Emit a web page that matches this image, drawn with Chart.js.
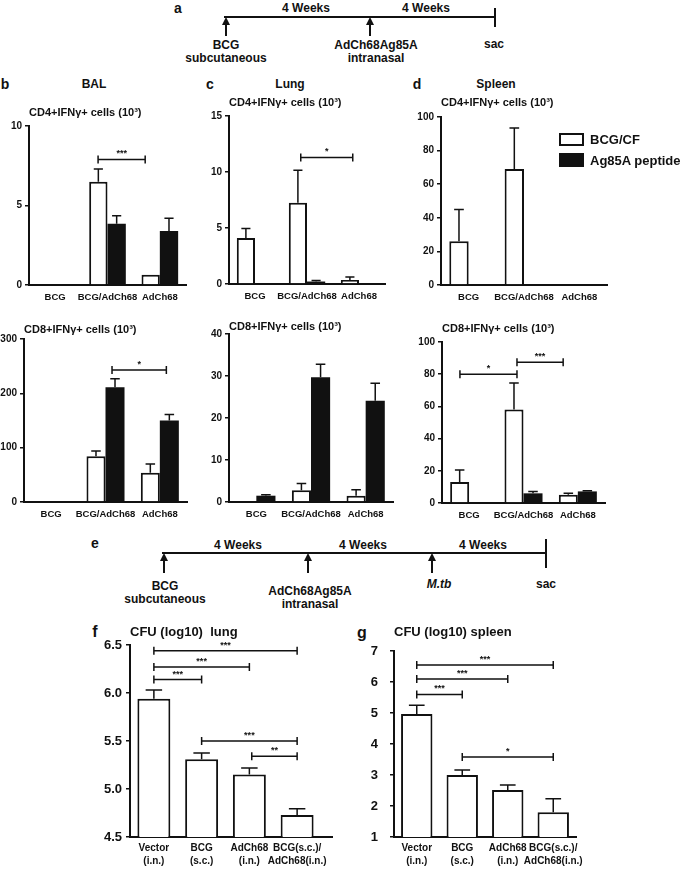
<!DOCTYPE html>
<html>
<head>
<meta charset="utf-8">
<script src="https://cdn.jsdelivr.net/npm/chart.js@4.4.1/dist/chart.umd.min.js"></script>
<style>
  html, body { margin: 0; padding: 0; background: #fff; }
  #page { position: relative; width: 685px; height: 870px; overflow: hidden; background: #fff; }
  canvas { position: absolute; }
  .t { position: absolute; transform: translate(-50%, -50%); white-space: nowrap; font: bold 12px 'Liberation Sans', Arial, sans-serif; color: #111; }
  .lt { position: absolute; transform: translateY(-50%); white-space: nowrap; font: bold 13px 'Liberation Sans', Arial, sans-serif; color: #111; }
  .ln { position: absolute; background: #111; }
  .head { position: absolute; width: 0; height: 0; border-left: 4px solid transparent; border-right: 4px solid transparent; border-bottom: 8px solid #111; }
  .key { position: absolute; box-sizing: border-box; width: 25px; border: 2px solid #111; }
</style>
</head>
<body>
<div id="page"></div>
<script>
// ---- data ----
const groups = ['BCG', 'BCG/AdCh68', 'AdCh68'];
const seriesNames = ['BCG/CF', 'Ag85A peptide'];

// b: BAL
const balCd4Cf = [null, 6.5, 0.65];
const balCd4CfErr = [0, 0.8, 0];
const balCd4Pep = [null, 3.85, 3.4];
const balCd4PepErr = [0, 0.5, 0.8];
const balCd8Cf = [null, 84, 54];
const balCd8CfErr = [0, 10, 16];
const balCd8Pep = [null, 211, 150];
const balCd8PepErr = [0, 16, 11];

// c: Lung
const lungCd4Cf = [4.1, 7.25, 0.35];
const lungCd4CfErr = [0.85, 2.9, 0.27];
const lungCd4Pep = [null, 0.22, null];
const lungCd4PepErr = [0, 0.1, 0];
const lungCd8Cf = [null, 2.8, 1.5];
const lungCd8CfErr = [0, 1.6, 1.4];
const lungCd8Pep = [1.5, 29.7, 24.1];
const lungCd8PepErr = [0.25, 3.1, 4.2];

// d: Spleen
const spleenCd4Cf = [26, 69, null];
const spleenCd4CfErr = [19, 24.5, 0];
const spleenCd4Pep = [null, null, null];
const spleenCd4PepErr = [0, 0, 0];
const spleenCd8Cf = [13, 58, 5.2];
const spleenCd8CfErr = [7.5, 16.5, 0.8];
const spleenCd8Pep = [0.5, 6, 7.2];
const spleenCd8PepErr = [0, 1.2, 0.4];

// f, g: CFU after M.tb challenge
const cfuGroups = [['Vector', '(i.n.)'], ['BCG', '(s.c.)'], ['AdCh68', '(i.n.)'], ['BCG(s.c.)/', 'AdCh68(i.n.)']];
const cfuLung = [5.94, 5.31, 5.15, 4.73];
const cfuLungErr = [0.09, 0.065, 0.07, 0.065];
const cfuSpleen = [4.97, 3.0, 2.52, 1.8];
const cfuSpleenErr = [0.28, 0.16, 0.16, 0.43];

// significance brackets (category index units, value units)
const balCd4Sig = [{ from: 0.82, to: 1.72, y: 7.9, text: '***' }];
const balCd8Sig = [{ from: 1.12, to: 2.12, y: 243, text: '*' }];
const lungCd4Sig = [{ from: 0.88, to: 1.88, y: 11.3, text: '*' }];
const spleenCd8Sig = [
  { from: -0.17, to: 0.88, y: 80, text: '*' },
  { from: 0.88, to: 1.73, y: 87.5, text: '***' }
];
const cfuLungSig = [
  { from: 0, to: 3, y: 6.44, text: '***' },
  { from: 0, to: 2, y: 6.27, text: '***' },
  { from: 0, to: 1, y: 6.14, text: '***' },
  { from: 1, to: 3, y: 5.5, text: '***' },
  { from: 2.05, to: 3, y: 5.34, text: '**' }
];
const cfuSpleenSig = [
  { from: 0, to: 3, y: 6.55, text: '***' },
  { from: 0, to: 2, y: 6.1, text: '***' },
  { from: 0, to: 1, y: 5.6, text: '***' },
  { from: 1, to: 3, y: 3.58, text: '*' }
];

// ---- page helpers ----
const page = document.getElementById('page');
function put(cls, css, txt) {
  const d = document.createElement('div');
  d.className = cls;
  d.style.cssText = css;
  if (txt) d.textContent = txt;
  page.appendChild(d);
  return d;
}
function label(x, y, txt, extra) { put('t', `left:${x}px;top:${y}px;${extra || ''}`, txt); }
function arrow(x, y1, y2) {
  put('ln', `left:${x - 1}px;top:${y1 + 6}px;width:2px;height:${y2 - y1 - 6}px`);
  put('head', `left:${x - 4}px;top:${y1}px`);
}

// timeline a
label(178, 8, 'a', 'font-size:14px');
put('ln', 'left:224px;top:16px;width:271px;height:2px');
put('ln', 'left:494px;top:8px;width:2px;height:19px');
arrow(226, 17, 36);
arrow(370, 17, 36);
label(306, 8, '4 Weeks');
label(426, 8, '4 Weeks');
label(226, 45, 'BCG');
label(226, 58, 'subcutaneous');
label(376, 45, 'AdCh68Ag85A');
label(376, 58, 'intranasal');
label(494, 44, 'sac');

// panel headers
label(5, 84, 'b', 'font-size:14px');
label(94, 84, 'BAL');
label(210, 84, 'c', 'font-size:14px');
label(290, 84, 'Lung');
label(417, 84, 'd', 'font-size:14px');
label(496, 84, 'Spleen');

// timeline e
label(95, 543, 'e', 'font-size:14px');
put('ln', 'left:162px;top:552px;width:384px;height:2px');
put('ln', 'left:545px;top:539px;width:2px;height:29px');
arrow(164, 553, 573);
arrow(308, 553, 573);
arrow(432, 553, 573);
label(238, 545, '4 Weeks');
label(363, 545, '4 Weeks');
label(483, 545, '4 Weeks');
label(165, 586, 'BCG');
label(165, 599, 'subcutaneous');
label(310, 591, 'AdCh68Ag85A');
label(310, 604, 'intranasal');
label(439, 584, 'M.tb', 'font-style:italic');
label(546, 584, 'sac');

label(95, 632, 'f', 'font-size:16px');
label(362, 633, 'g', 'font-size:16px');

// ---- charts ----
const FONT = "'Liberation Sans', Arial, sans-serif";
Chart.defaults.font.family = FONT;
Chart.defaults.font.weight = 'bold';
Chart.defaults.color = '#111';

// error whiskers, significance brackets, axis extension
const marks = {
  id: 'marks',
  afterDatasetsDraw(chart, args, opts) {
    const ctx = chart.ctx;
    const xs = chart.scales.x, ys = chart.scales.y;
    ctx.save();
    ctx.strokeStyle = '#111';
    ctx.fillStyle = '#111';
    ctx.lineWidth = 1.5;
    chart.data.datasets.forEach((ds, di) => {
      if (!ds.errors) return;
      chart.getDatasetMeta(di).data.forEach((bar, i) => {
        const v = ds.data[i], e = ds.errors[i];
        if (v == null || !e) return;
        const top = ys.getPixelForValue(v + e);
        const half = bar.width / 4;
        ctx.beginPath();
        ctx.moveTo(bar.x, bar.y);
        ctx.lineTo(bar.x, top);
        ctx.moveTo(bar.x - half, top);
        ctx.lineTo(bar.x + half, top);
        ctx.stroke();
      });
    });
    const cw = xs.width / chart.data.labels.length;
    ctx.font = `bold ${opts.starSize || 9}px ${FONT}`;
    ctx.textAlign = 'center';
    ctx.textBaseline = 'bottom';
    (opts.brackets || []).forEach(b => {
      const x1 = xs.left + (b.from + 0.5) * cw;
      const x2 = xs.left + (b.to + 0.5) * cw;
      const py = ys.getPixelForValue(b.y);
      ctx.beginPath();
      ctx.moveTo(x1, py); ctx.lineTo(x2, py);
      ctx.moveTo(x1, py - 4); ctx.lineTo(x1, py + 4);
      ctx.moveTo(x2, py - 4); ctx.lineTo(x2, py + 4);
      ctx.stroke();
      ctx.fillText(b.text, (x1 + x2) / 2, py - 1);
    });
    if (opts.extend) {
      const a = chart.chartArea;
      ctx.lineWidth = 2;
      ctx.beginPath();
      ctx.moveTo(a.right, a.bottom);
      ctx.lineTo(a.right + opts.extend, a.bottom);
      ctx.stroke();
    }
    ctx.restore();
  }
};

function pair(cf, cfErr, pep, pepErr) {
  const common = { categoryPercentage: 0.7, barPercentage: 1 };
  return [
    { label: seriesNames[0], data: cf, errors: cfErr, backgroundColor: '#fff', borderColor: '#111', borderWidth: 2, ...common },
    { label: seriesNames[1], data: pep, errors: pepErr, backgroundColor: '#111', borderColor: '#111', borderWidth: 0, ...common }
  ];
}

function makeChart(geo, labels, datasets, y, titleText, brackets) {
  const fs = geo.titleSize || 11;
  const pr = geo.pr || 8;
  const xH = geo.xH || 24;
  const left = geo.l - geo.yW;
  const top = Math.round(geo.titleY - fs * 0.6);
  const canvas = document.createElement('canvas');
  canvas.width = geo.r + pr - left;
  canvas.height = geo.b + xH - top;
  canvas.style.left = left + 'px';
  canvas.style.top = top + 'px';
  page.appendChild(canvas);
  return new Chart(canvas, {
    type: 'bar',
    data: { labels, datasets },
    options: {
      responsive: false,
      animation: false,
      layout: { padding: { left: 0, top: 0, right: pr, bottom: 0 } },
      plugins: {
        legend: { display: false },
        tooltip: { enabled: false },
        title: {
          display: true, text: titleText, align: 'start', fullSize: false,
          font: { size: fs, weight: 'bold' },
          padding: { top: 0, bottom: geo.t - top - fs * 1.2 }
        },
        marks: { brackets: brackets || [], extend: geo.extend || 0, starSize: geo.starSize }
      },
      scales: {
        x: {
          grid: { display: false, drawTicks: false, tickLength: 0 },
          border: { display: true, color: '#111', width: 2 },
          ticks: { padding: geo.xPad ?? 6, font: { size: geo.xFont || 9.5, lineHeight: 1.3 }, maxRotation: 0, minRotation: 0, autoSkip: false },
          afterFit: s => { s.height = xH; }
        },
        y: {
          min: y.min, max: y.max,
          ticks: { stepSize: y.step, padding: geo.yPad ?? 3, font: { size: geo.yFont || 10 }, callback: y.fmt || (v => v) },
          grid: { display: true, drawOnChartArea: false, drawTicks: true, tickLength: 4, color: '#111', lineWidth: 1.5 },
          border: { display: true, color: '#111', width: 2 },
          afterFit: s => { s.width = geo.yW; }
        }
      }
    },
    plugins: [marks]
  });
}

const cd4Title = 'CD4+IFNγ+ cells (10³)';
const cd8Title = 'CD8+IFNγ+ cells (10³)';

makeChart({ l: 29, t: 126, r: 186, b: 285, titleY: 113, yW: 26 }, groups,
  pair(balCd4Cf, balCd4CfErr, balCd4Pep, balCd4PepErr), { min: 0, max: 10, step: 5 }, cd4Title, balCd4Sig);
makeChart({ l: 229, t: 116, r: 385, b: 284, titleY: 103, yW: 26 }, groups,
  pair(lungCd4Cf, lungCd4CfErr, lungCd4Pep, lungCd4PepErr), { min: 0, max: 15, step: 5 }, cd4Title, lungCd4Sig);
makeChart({ l: 441, t: 117, r: 607, b: 285, titleY: 103, yW: 28 }, groups,
  pair(spleenCd4Cf, spleenCd4CfErr, spleenCd4Pep, spleenCd4PepErr), { min: 0, max: 100, step: 20 }, cd4Title, []);

makeChart({ l: 24, t: 339, r: 187, b: 502, titleY: 330, yW: 26 }, groups,
  pair(balCd8Cf, balCd8CfErr, balCd8Pep, balCd8PepErr), { min: 0, max: 300, step: 100 }, cd8Title, balCd8Sig);
makeChart({ l: 229, t: 334, r: 393, b: 502, titleY: 327, yW: 26 }, groups,
  pair(lungCd8Cf, lungCd8CfErr, lungCd8Pep, lungCd8PepErr), { min: 0, max: 40, step: 10 }, cd8Title, []);
makeChart({ l: 442, t: 342, r: 605, b: 503, titleY: 329, yW: 28 }, groups,
  pair(spleenCd8Cf, spleenCd8CfErr, spleenCd8Pep, spleenCd8PepErr), { min: 0, max: 100, step: 20 }, cd8Title, spleenCd8Sig);

const cfuBar = (data, errors) => [{
  label: 'CFU', data, errors, backgroundColor: '#fff', borderColor: '#111', borderWidth: 2,
  categoryPercentage: 1, barPercentage: 0.69
}];
makeChart({ l: 130, t: 645, r: 321, b: 837, titleY: 633, yW: 36, titleSize: 13, xH: 33, pr: 20, xFont: 10, yFont: 13, xPad: 5, yPad: 4, extend: 12 },
  cfuGroups, cfuBar(cfuLung, cfuLungErr), { min: 4.5, max: 6.5, step: 0.5, fmt: v => v.toFixed(1) }, 'CFU (log10)  lung', cfuLungSig);
makeChart({ l: 394, t: 651, r: 576, b: 837, titleY: 633, yW: 36, titleSize: 13, xH: 33, pr: 20, xFont: 10, yFont: 13, xPad: 5, yPad: 12 },
  cfuGroups, cfuBar(cfuSpleen, cfuSpleenErr), { min: 1, max: 7, step: 1 }, 'CFU (log10) spleen', cfuSpleenSig);

// legend built from the series names
put('key', 'left:559px;top:133px;height:13px;background:#fff');
put('lt', 'left:590px;top:139px', seriesNames[0]);
put('key', 'left:559px;top:153px;height:14px;background:#111');
put('lt', 'left:590px;top:160px', seriesNames[1]);
</script>
</body>
</html>
